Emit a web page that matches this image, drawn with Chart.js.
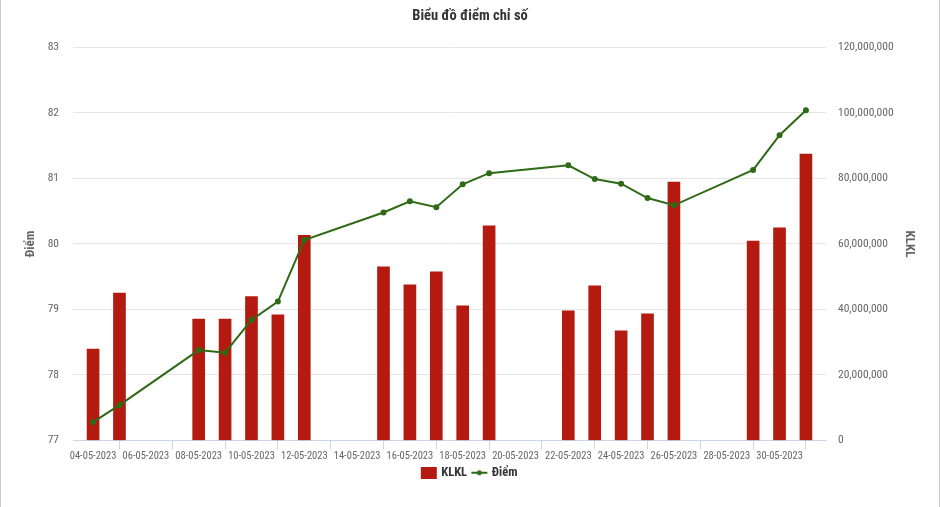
<!DOCTYPE html>
<html>
<head>
<meta charset="utf-8">
<script src="https://cdn.jsdelivr.net/npm/chart.js@4/dist/chart.umd.min.js"></script>
<style>
  html, body { margin: 0; padding: 0; background: #fff; }
  #wrap { position: relative; width: 938px; height: 507px; border-left: 1px solid #ccc; border-right: 1px solid #ccc; }
</style>
</head>
<body>
<div id="wrap"><canvas id="chart"></canvas></div>
<script>
// dữ liệu
const dates = ['04-05-2023', '05-05-2023', '08-05-2023', '09-05-2023', '10-05-2023', '11-05-2023', '12-05-2023',
    '15-05-2023', '16-05-2023', '17-05-2023', '18-05-2023', '19-05-2023',
    '22-05-2023', '23-05-2023', '24-05-2023', '25-05-2023', '26-05-2023',
    '29-05-2023', '30-05-2023', '31-05-2023'];
const klkl = [27.9e6, 45.0e6, 37.1e6, 37.1e6, 43.9e6, 38.4e6, 62.6e6,
    53.0e6, 47.5e6, 51.5e6, 41.1e6, 65.5e6,
    39.6e6, 47.2e6, 33.5e6, 38.7e6, 78.9e6,
    60.9e6, 64.9e6, 87.4e6];
const diem = [77.28, 77.54, 78.38, 78.34, 78.84, 79.12, 80.06,
    80.48, 80.65, 80.56, 80.91, 81.08,
    81.20, 80.99, 80.92, 80.70, 80.59,
    81.13, 81.66, 82.04];
const tickDates = ['04-05-2023', '06-05-2023', '08-05-2023', '10-05-2023', '12-05-2023', '14-05-2023', '16-05-2023',
    '18-05-2023', '20-05-2023', '22-05-2023', '24-05-2023', '26-05-2023', '28-05-2023', '30-05-2023'];

const font = '"Roboto Condensed", "Liberation Sans Narrow", sans-serif';
const textMuted = '#666666';
const grid = '#e6e6e6';
const axisLine = '#ccd6eb';
const red = '#b51a10';
const green = '#2f6a16';

// số ngày kể từ 04-05-2023
function dayIndex(s) {
    const p = s.split('-').map(Number);
    return Math.round((Date.UTC(p[2], p[1] - 1, p[0]) - Date.UTC(2023, 4, 4)) / 86400000);
}
const byIndex = {};
tickDates.forEach(function (d) { byIndex[dayIndex(d)] = d; });

// biểu tượng chú thích
function icon(draw) {
    const c = document.createElement('canvas');
    c.width = 18; c.height = 12;
    draw(c.getContext('2d'));
    return c;
}
const barIcon = icon(function (g) { g.fillStyle = red; g.fillRect(1, 0, 16, 12); });
const lineIcon = icon(function (g) {
    g.strokeStyle = green; g.lineWidth = 2;
    g.beginPath(); g.moveTo(1, 6); g.lineTo(17, 6); g.stroke();
    g.fillStyle = green; g.beginPath(); g.arc(9, 6, 2.5, 0, Math.PI * 2); g.fill();
});

new Chart(document.getElementById('chart'), {
    type: 'bar',
    data: {
        datasets: [{
            type: 'line',
            label: 'Điểm',
            data: dates.map(function (d, i) { return { x: dayIndex(d), y: diem[i] }; }),
            yAxisID: 'y',
            borderColor: green,
            backgroundColor: green,
            borderWidth: 2,
            pointRadius: 2,
            pointHoverRadius: 4,
            tension: 0,
            order: 0
        }, {
            label: 'KLKL',
            data: dates.map(function (d, i) { return { x: dayIndex(d), y: klkl[i] }; }),
            yAxisID: 'y1',
            backgroundColor: red,
            barThickness: 12,
            order: 1
        }]
    },
    options: {
        responsive: true,
        maintainAspectRatio: false,
        animation: false,
        layout: { padding: { top: 8, bottom: 18 } },
        plugins: {
            title: {
                display: true,
                text: 'Biểu đồ điểm chỉ số',
                color: '#333333',
                font: { family: font, size: 14.5, weight: 'bold' },
                padding: { top: 0, bottom: 22 }
            },
            legend: {
                position: 'bottom',
                reverse: true,
                labels: {
                    color: '#333333',
                    font: { family: font, size: 12.5, weight: 'bold' },
                    usePointStyle: true,
                    padding: 6,
                    generateLabels: function (chart) {
                        return Chart.defaults.plugins.legend.labels.generateLabels(chart).map(function (l) {
                            l.pointStyle = l.text === 'KLKL' ? barIcon : lineIcon;
                            return l;
                        });
                    }
                }
            }
        },
        scales: {
            x: {
                type: 'linear',
                offset: false,
                min: -0.76,
                max: 27.76,
                afterBuildTicks: function (scale) {
                    scale.ticks = Object.keys(byIndex).map(function (k) { return { value: Number(k) }; });
                },
                ticks: {
                    color: textMuted,
                    font: { family: font, size: 10.5 },
                    maxRotation: 0,
                    autoSkip: false,
                    padding: 1,
                    callback: function (v) { return byIndex[v] || ''; }
                },
                grid: { drawOnChartArea: false, color: axisLine, tickLength: 9 },
                border: { color: axisLine },
                afterFit: function (scale) { scale.height = 20; }
            },
            y: {
                position: 'left',
                min: 77,
                max: 83,
                ticks: { stepSize: 1, color: textMuted, font: { family: font, size: 11.5 }, padding: 14 },
                grid: { color: grid, drawTicks: false },
                border: { display: false },
                title: { display: true, text: 'Điểm', color: textMuted, font: { family: font, size: 13, weight: 'bold' }, padding: { top: 22, bottom: 4 } },
                afterFit: function (scale) { scale.width = 72; }
            },
            y1: {
                position: 'right',
                min: 0,
                max: 120000000,
                ticks: {
                    stepSize: 20000000,
                    color: textMuted,
                    font: { family: font, size: 11.5 },
                    padding: 12,
                    callback: function (v) { return v.toLocaleString('en-US'); }
                },
                grid: { drawOnChartArea: false, drawTicks: false },
                border: { display: false },
                title: { display: true, text: 'KLKL', color: textMuted, font: { family: font, size: 13, weight: 'bold' }, padding: { top: 22, bottom: 4 } },
                afterFit: function (scale) { scale.width = 113; }
            }
        }
    }
});
</script>
</body>
</html>
